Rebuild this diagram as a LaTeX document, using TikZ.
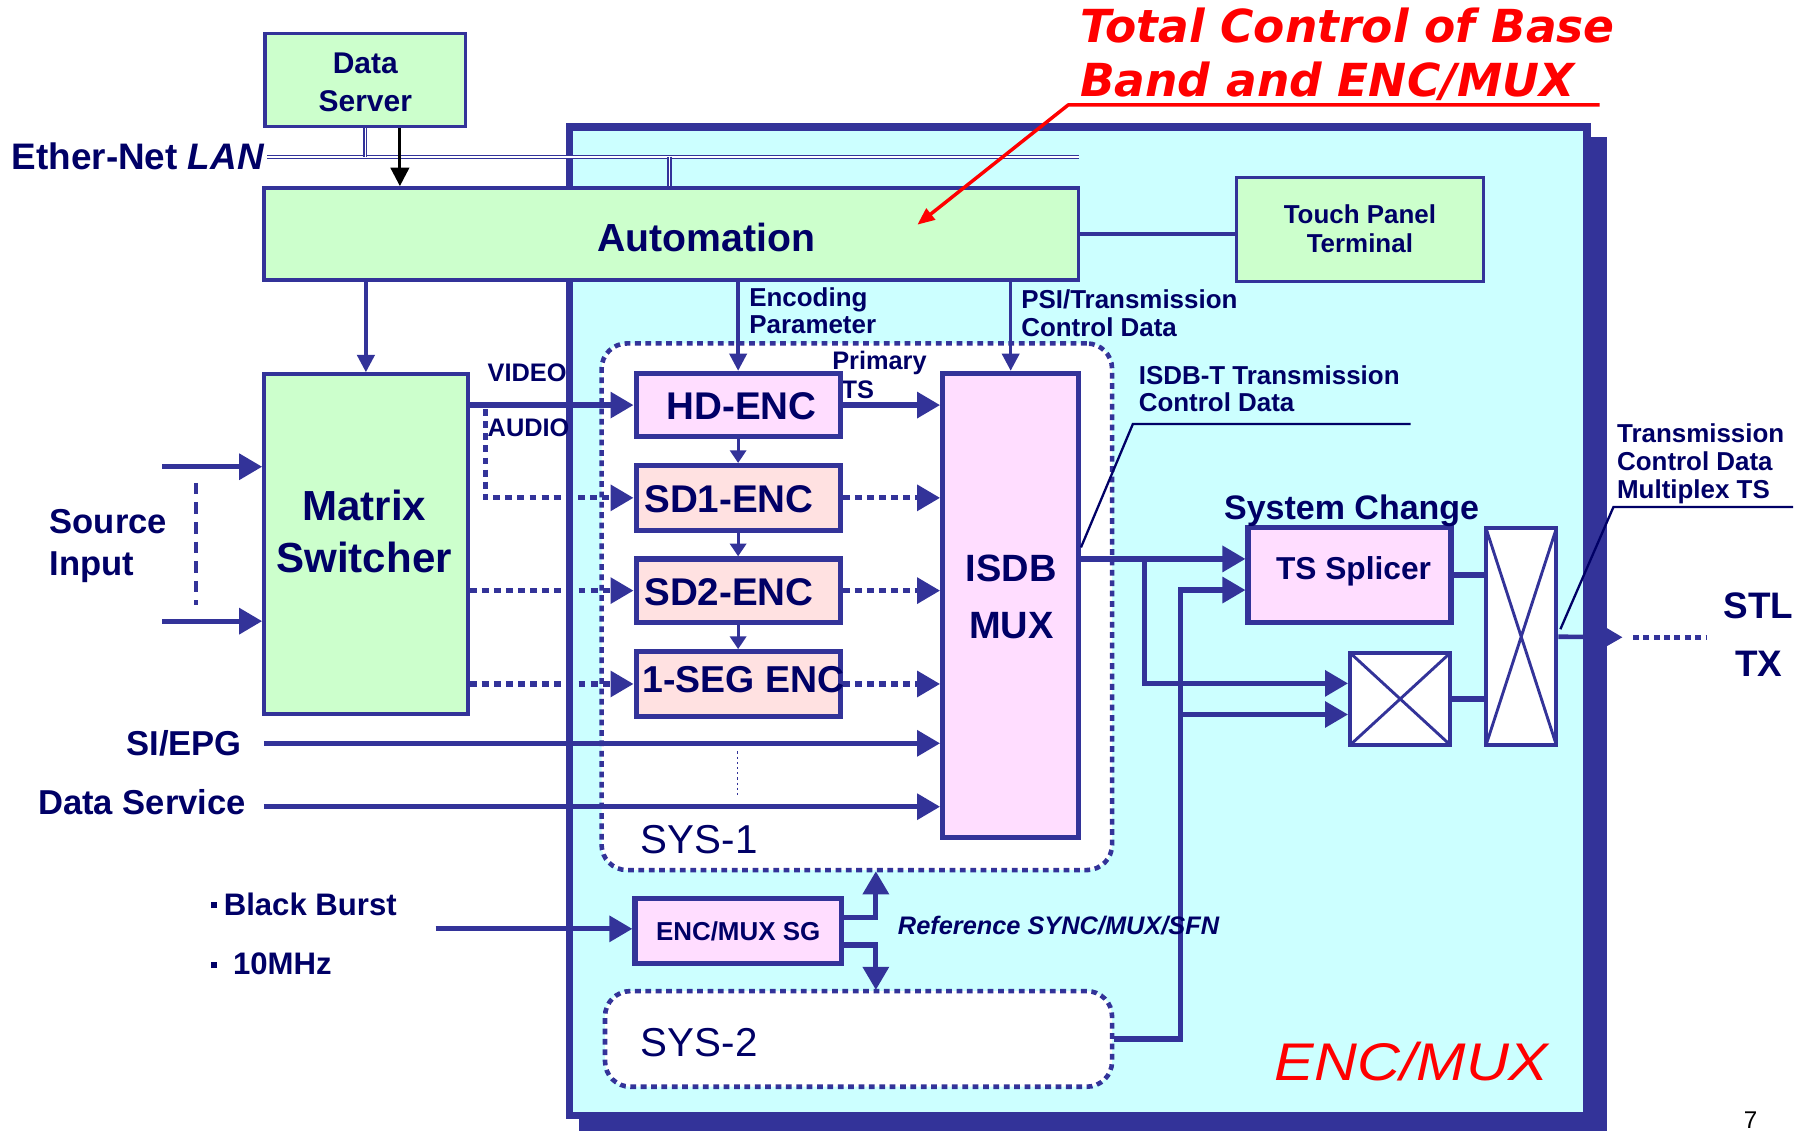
\documentclass[tikz,border=0pt]{standalone}
\usepackage{fontspec}
\usepackage{graphicx}
\setmainfont{Liberation Sans}
\newfontfamily\titlefont{DejaVu Sans}[BoldFont={DejaVu Sans Bold},ItalicFont={DejaVu Sans Oblique},BoldItalicFont={DejaVu Sans Bold Oblique}]
\usetikzlibrary{arrows.meta}
\definecolor{navy}{HTML}{333399}
\definecolor{ink}{HTML}{000066}
\definecolor{mint}{HTML}{CCFFCC}
\definecolor{aqua}{HTML}{CCFFFF}
\definecolor{lilac}{HTML}{FFDDFF}
\definecolor{blush}{HTML}{FFE1E1}
\newcommand{\fsz}[2]{\fontsize{#1}{#2}\selectfont}
\newcommand{\stackl}[1]{\begin{tabular}[t]{@{}l@{}}#1\end{tabular}}
\newcommand{\stackc}[1]{\begin{tabular}[t]{@{}c@{}}#1\end{tabular}}
\newcommand{\sqbul}{\rule[6pt]{5pt}{5pt}}
\tikzset{
  box/.style={draw=navy, inner sep=0pt, text=ink, font=\bfseries},
  greenbox/.style={box, fill=mint, line width=3pt},
  encbox/.style={box, fill=blush, line width=4.5pt},
  pinkbox/.style={box, fill=lilac, line width=4.5pt},
  crossbox/.style={draw=navy, fill=white, line width=3.5pt, inner sep=0pt,
    path picture={\draw[navy, line width=2.5pt]
      (path picture bounding box.north west) -- (path picture bounding box.south east)
      (path picture bounding box.south west) -- (path picture bounding box.north east);}},
  sysbox/.style={draw=navy, fill=white, line width=4pt, dash pattern=on 5pt off 4pt,
    rounded corners=22pt, inner sep=0pt},
  txt/.style={inner sep=0pt, text=ink, anchor=base},
  lbl/.style={txt, anchor=base west, font=\bfseries\fsz{22.5}{24}},
  conn/.style={draw=navy, line width=4.5pt},
  bigarrow/.style={conn, -{Triangle[length=20pt,width=22pt]}},
  dotarrow/.style={bigarrow, line width=4.5pt, dash pattern=on 6pt off 4.5pt},
  midarrow/.style={draw=navy, line width=3pt, -{Triangle[length=15pt,width=15pt]}},
  smallarrow/.style={draw=navy, line width=2.5pt, -{Triangle[length=11pt,width=14pt]}},
  lan/.style={draw=navy, line width=1.1pt, double=white, double distance=1.4pt},
  leader/.style={draw=ink, line width=2pt},
}
\begin{document}
\begin{tikzpicture}[x=1pt,y=-1pt]
\useasboundingbox (0,0) rectangle (1568,981);

% ENC/MUX unit with its offset shadow
\fill[navy] (502,119) rectangle (1394,990);
\node[draw=navy, fill=aqua, line width=6.5pt, minimum width=883pt, minimum height=858pt, inner sep=0pt] (unit) at (935.5,539) {};

% Ether-Net LAN bus
\coordinate (lanL) at (232,136);
\coordinate (lanR) at (936,136);
\coordinate (lanA) at (581,136);
\draw[lan] (lanL) -- (lanR);

% system groups
\node[sysbox, minimum width=443pt, minimum height=457pt] (sys1) at (743.5,526.5) {};
\node[sysbox, minimum width=440pt, minimum height=83pt] (sys2) at (745,901.5) {};

% label partly covered by the HD encoder
\node[lbl, font=\bfseries\fsz{22}{25}] (primT) at (722,321) {Primary};
\node[lbl, font=\bfseries\fsz{22}{25}] (tsT) at (730,346) {TS};

% boxes
\node[greenbox, minimum width=174pt, minimum height=81pt] (ds) at (317,69.5) {};
\node[greenbox, minimum width=707pt, minimum height=80pt] (auto) at (582.5,203) {};
\node[greenbox, line width=2.5pt, minimum width=214pt, minimum height=90pt] (tp) at (1180,199) {};
\node[greenbox, minimum width=177pt, minimum height=295pt] (mtx) at (317.5,472) {};
\node[pinkbox, minimum width=177pt, minimum height=55pt] (hd) at (640.5,351.5) {};
\node[encbox, minimum width=177pt, minimum height=56pt] (sd1) at (640.5,432) {};
\node[encbox, minimum width=177pt, minimum height=55pt] (sd2) at (640.5,512.5) {};
\node[encbox, minimum width=177pt, minimum height=56pt] (seg) at (640.5,593.5) {};
\node[pinkbox, minimum width=118pt, minimum height=403pt] (mux) at (877,525.5) {};
\node[pinkbox, minimum width=179pt, minimum height=56pt, font=\bfseries\fsz{22.5}{24}] (sg) at (640.5,808) {ENC/MUX SG};
\node[pinkbox, minimum width=176pt, minimum height=82pt] (tss) at (1171,499) {};
\node[crossbox, minimum width=87pt, minimum height=80pt] (xs) at (1215,606.5) {};
\node[crossbox, minimum width=61pt, minimum height=188pt] (xt) at (1320,552.5) {};

% LAN drops
\draw[lan] (ds.south) -- (ds.south |- lanL);
\draw[lan] (lanA) -- (lanA |- auto.north);
\coordinate (dsa) at ([xshift=30pt]ds.south);
\draw[black, line width=2.5pt, -{Triangle[length=16pt,width=16pt]}] (dsa) -- (dsa |- auto.north);

% control connections
\draw[draw=navy, line width=3pt] (auto.east) -- (auto.east -| tp.west);
\draw[midarrow] (auto.south -| mtx.north) -- (mtx.north);
\draw[midarrow] (auto.south -| hd.north) -- (hd.north);
\draw[midarrow] (auto.south -| mux.north) -- (mux.north);

% source inputs
\coordinate (srcA) at (141,405);
\coordinate (srcB) at (141,539);
\draw[bigarrow] (srcA) -- (srcA -| mtx.west);
\draw[bigarrow] (srcB) -- (srcB -| mtx.west);
\coordinate (dashA) at (170,419);
\coordinate (dashB) at (170,525);
\draw[navy, line width=3pt, dash pattern=on 10pt off 7pt] (dashA) -- (dashB);

% matrix switcher to encoders
\draw[bigarrow] (mtx.east |- hd.west) -- (hd.west);
\coordinate (abr) at (421,355);
\draw[dotarrow] (abr) |- (sd1.west);
\draw[dotarrow] (mtx.east |- sd2.west) -- (sd2.west);
\draw[dotarrow] (mtx.east |- seg.west) -- (seg.west);

% encoder chain
\draw[smallarrow] (hd.south) -- (sd1.north);
\draw[smallarrow] (sd1.south) -- (sd2.north);
\draw[smallarrow] (sd2.south) -- (seg.north);

% encoders to multiplexer
\draw[bigarrow] (hd.east) -- (hd.east -| mux.west);
\draw[dotarrow] (sd1.east) -- (sd1.east -| mux.west);
\draw[dotarrow] (sd2.east) -- (sd2.east -| mux.west);
\draw[dotarrow] (seg.east) -- (seg.east -| mux.west);

% SI/EPG and data service
\coordinate (siA) at (229,645);
\coordinate (dsvA) at (229,700);
\draw[bigarrow] (siA) -- (siA -| mux.west);
\draw[bigarrow] (dsvA) -- (dsvA -| mux.west);
\coordinate (vdA) at (640,652);
\coordinate (vdB) at (640,690);
\draw[navy, line width=1.5pt, dash pattern=on 2pt off 2.5pt] (vdA) -- (vdB);

% reference signal generator
\coordinate (bb) at (378,806);
\draw[bigarrow] (bb) -- (bb -| sg.west);
\coordinate (upt) at (760,756);
\coordinate (dnt) at (760,859);
\draw[bigarrow] ([yshift=12pt]sg.east) -| (upt);
\draw[bigarrow] ([yshift=-12pt]sg.east) -| (dnt);

% multiplexer outputs and system change
\coordinate (mo) at (938,485);
\coordinate (br1) at (993,485);
\coordinate (j2) at (1024,512);
\coordinate (tin1) at ([yshift=14pt]tss.west);
\coordinate (tin2) at ([yshift=-13pt]tss.west);
\coordinate (xin1) at ([yshift=13.5pt]xs.west);
\coordinate (xin2) at ([yshift=-13.5pt]xs.west);
\draw[bigarrow] (mo) -- (tin1);
\draw[bigarrow] (br1) |- (xin1);
\draw[bigarrow] (sys2.east) -| (j2) -- (tin2);
\draw[bigarrow] (xin2 -| j2) -- (xin2);
\draw[conn, line width=5pt] (tss.east) -- (tss.east -| xt.west);
\draw[conn, line width=5pt] (xs.east) -- (xs.east -| xt.west);
\coordinate (outtip) at (1408,553);
\draw[draw=navy, line width=4pt, -{Triangle[length=14pt,width=15pt]}] (xt.east) -- (outtip);
\coordinate (stla) at (1417,553);
\coordinate (stlb) at (1481,553);
\draw[navy, line width=4.3pt, dash pattern=on 5pt off 4pt] (stla) -- (stlb);

% leader lines
\coordinate (ldA) at (1224,368);
\coordinate (ldB) at (983,368);
\coordinate (ldC) at (938,475);
\draw[leader] (ldA) -- (ldB) -- (ldC);
\coordinate (ldD) at (1556,440);
\coordinate (ldE) at (1400,440);
\coordinate (ldF) at (1354,546);
\draw[leader] (ldD) -- (ldE) -- (ldF);

% title callout
\coordinate (ulR) at (1388,91);
\coordinate (ulL) at (927,91);
\coordinate (redtip) at (796,195);
\draw[red, line width=3pt, line join=round, -{Triangle[length=15pt,width=12pt]}] (ulR) -- (ulL) -- (redtip);
\node[txt, anchor=base west, text=red, font=\titlefont\bfseries\itshape\fsz{39.5}{47}] (title) at (937,37) {\stackl{Total Control of Base\\Band and ENC/MUX}};

% texts
\node[txt, anchor=base west, font=\bfseries\fsz{32}{36}] (ethT) at (10,147) {Ether-Net \textit{LAN}};
\node[txt, font=\bfseries\fsz{26}{33.5}] (dsT) at (317,63.6) {\stackc{Data\\Server}};
\node[txt, font=\bfseries\fsz{34}{40}] (autoT) at (613,218.5) {Automation};
\node[txt, font=\bfseries\fsz{22.5}{25.5}] (tpT) at (1180,193.6) {\stackc{Touch Panel\\Terminal}};
\node[txt, font=\bfseries\fsz{36.5}{45}] (mtxT) at (316,452) {\stackc{Matrix\\Switcher}};
\node[txt, anchor=base west, font=\bfseries\fsz{30}{36}] (srcT) at (43,463) {\stackl{Source\\Input}};
\node[lbl, font=\bfseries\fsz{22}{24}] (videoT) at (423,331) {VIDEO};
\node[lbl, font=\bfseries\fsz{22}{24}] (audioT) at (423,379) {AUDIO};
\node[lbl, font=\bfseries\fsz{22.5}{23.5}] (encpT) at (650,265.6) {\stackl{Encoding\\Parameter}};
\node[lbl] (psiT) at (886,268) {\stackl{PSI/Transmission\\Control Data}};
\node[txt, font=\bfseries\fsz{33.5}{36}] (hdT) at (643.6,364) {HD-ENC};
\node[txt, font=\bfseries\fsz{33.5}{36}] (sd1T) at (632.6,445) {SD1-ENC};
\node[txt, font=\bfseries\fsz{33.5}{36}] (sd2T) at (632.6,525) {SD2-ENC};
\node[txt, font=\bfseries\fsz{32.5}{36}] (segT) at (645,601) {1-SEG ENC};
\node[txt, font=\bfseries\fsz{33}{49}] (muxT) at (877.5,505) {\stackc{ISDB\\MUX}};
\node[txt, anchor=base east, font=\bfseries\fsz{30}{36}] (siT) at (210,656) {SI/EPG};
\node[txt, anchor=base east, font=\bfseries\fsz{30}{36}] (dsvT) at (213.5,707) {Data Service};
\node[txt, anchor=base west, font=\fsz{35}{40}] (sys1T) at (556,741) {SYS-1};
\node[txt, anchor=base west, font=\fsz{35}{40}] (sys2T) at (556,917) {SYS-2};
\node[txt, anchor=base west, font=\bfseries\fsz{27}{30}] (bbT) at (183,794) {\sqbul\hspace{6pt}Black Burst};
\node[txt, anchor=base west, font=\bfseries\fsz{27}{30}] (mhzT) at (183,846) {\sqbul\hspace{14pt}10MHz};
\node[txt, anchor=base west, font=\bfseries\itshape\fsz{22}{24}] (refT) at (779,811) {Reference SYNC/MUX/SFN};
\node[lbl, font=\bfseries\fsz{22.5}{23.5}] (isdbtT) at (988,334) {\stackl{ISDB-T Transmission\\Control Data}};
\node[txt, anchor=base west, font=\bfseries\fsz{29.5}{32}] (scT) at (1062,451) {System Change};
\node[txt, font=\bfseries\fsz{27.5}{30}] (tssT) at (1174.5,503) {TS Splicer};
\node[lbl, font=\bfseries\fsz{22.5}{24.5}] (tcdT) at (1403,384) {\stackl{Transmission\\Control Data\\Multiplex TS}};
\node[txt, font=\bfseries\fsz{32}{50}] (stlT) at (1526,537) {\stackc{STL\\TX}};
\node[txt, anchor=base west, text=red, font=\itshape\fsz{46}{50}] (encmuxT) at (1106,938) {\scalebox{1.12}[1]{ENC/MUX}};
\node[txt, text=black, font=\fsz{21}{24}] (pageT) at (1519,979) {7};
\end{tikzpicture}
\end{document}
